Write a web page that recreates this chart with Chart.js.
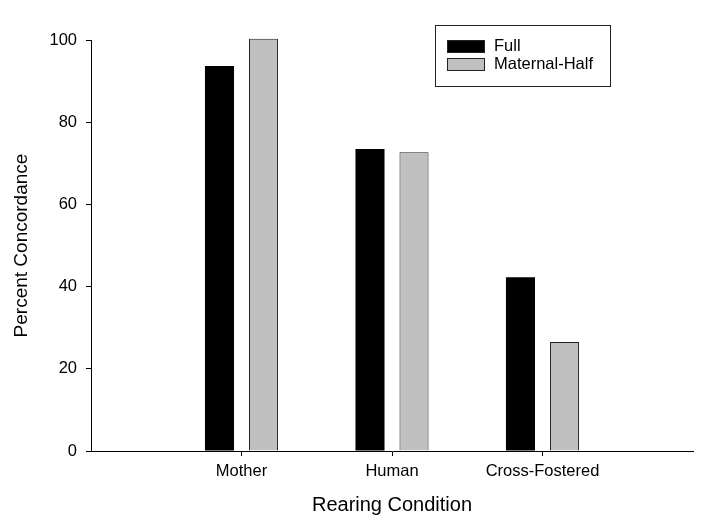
<!DOCTYPE html>
<html>
<head>
<meta charset="utf-8">
<script src="https://cdn.jsdelivr.net/npm/chart.js@4"></script>
<style>
  body { margin: 0; background: #fff; }
</style>
</head>
<body>
<canvas id="chart" width="710" height="523"></canvas>
<script>
const categories = ["Mother", "Human", "Cross-Fostered"];
const fullValues = [93.7, 73.5, 42.3];
const maternalHalfValues = [100.3, 72.7, 26.5];
const yTicks = [0, 20, 40, 60, 80, 100];

const FONT = "'Liberation Sans', Arial, Helvetica, sans-serif";

// empty slots at both ends give the wide margins left and right of the groups
const labels = [""].concat(categories, [""]);
const pad = arr => [null].concat(arr, [null]);

// boxed legend stacked in the upper right, like the original
const boxLegend = {
  id: "boxLegend",
  afterDraw(chart) {
    const ctx = chart.ctx;
    ctx.save();
    ctx.strokeStyle = "#222";
    ctx.lineWidth = 1;
    ctx.strokeRect(435.5, 25.5, 175, 61);
    ctx.font = "16.5px " + FONT;
    ctx.textBaseline = "middle";
    chart.data.datasets.forEach((ds, i) => {
      const y = 40 + i * 18;
      ctx.fillStyle = ds.backgroundColor;
      ctx.fillRect(447, y, 38, 13);
      ctx.strokeStyle = "#222";
      ctx.strokeRect(447.5, y + 0.5, 37, 12);
      ctx.fillStyle = "#000";
      ctx.fillText(ds.label, 494, y + 6.5);
    });
    ctx.restore();
  }
};

new Chart(document.getElementById("chart"), {
  type: "bar",
  data: {
    labels,
    datasets: [
      {
        label: "Full",
        data: pad(fullValues),
        backgroundColor: "#000000",
        borderWidth: 0,
        clip: false
      },
      {
        label: "Maternal-Half",
        data: pad(maternalHalfValues),
        backgroundColor: "#c0c0c0",
        borderColor: "#222222",
        borderWidth: 1,
        clip: false
      }
    ]
  },
  options: {
    responsive: false,
    animation: false,
    categoryPercentage: 0.585,
    barPercentage: 0.66,
    layout: { padding: { top: 40, right: 17, left: 0, bottom: 0 } },
    plugins: {
      legend: { display: false },
      tooltip: { enabled: false }
    },
    scales: {
      x: {
        offset: false,
        border: { color: "#000", width: 1 },
        grid: {
          offset: false,
          drawOnChartArea: false,
          tickLength: 5,
          tickColor: c => (c.index === 0 || c.index === labels.length - 1) ? "rgba(0,0,0,0)" : "#000"
        },
        ticks: {
          color: "#000",
          padding: 6,
          maxRotation: 0,
          autoSkip: false,
          font: { family: FONT, size: 16.5 }
        },
        title: {
          display: true,
          text: "Rearing Condition",
          color: "#000",
          padding: { top: 4, bottom: 6 },
          font: { family: FONT, size: 20 }
        },
        afterFit(scale) { scale.height = 72; }
      },
      y: {
        min: 0,
        max: 100,
        border: { color: "#000", width: 1 },
        grid: { drawOnChartArea: false, tickLength: 5, tickColor: "#000" },
        afterBuildTicks(scale) { scale.ticks = yTicks.map(v => ({ value: v })); },
        ticks: {
          color: "#000",
          padding: 9,
          font: { family: FONT, size: 16.5 }
        },
        title: {
          display: true,
          text: "Percent Concordance",
          color: "#000",
          padding: { top: 10, bottom: 4 },
          font: { family: FONT, size: 19 }
        },
        afterFit(scale) { scale.width = 91; }
      }
    }
  },
  plugins: [boxLegend]
});
</script>
</body>
</html>
